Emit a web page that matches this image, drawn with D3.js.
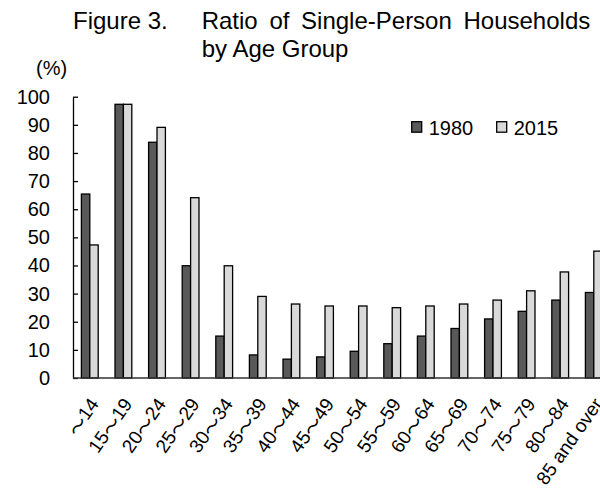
<!DOCTYPE html>
<html>
<head>
<meta charset="utf-8">
<script src="https://cdn.jsdelivr.net/npm/d3@7"></script>
<style>
  html, body { margin: 0; padding: 0; background: #fff; }
  svg { display: block; font-family: "Liberation Sans", Arial, sans-serif; }
</style>
</head>
<body>
<svg id="chart" width="600" height="492"></svg>
<script>
const categories = ["〜14","15〜19","20〜24","25〜29","30〜34","35〜39","40〜44","45〜49","50〜54","55〜59","60〜64","65〜69","70〜74","75〜79","80〜84","85 and over"];
const series = ["1980", "2015"];
const values1980 = [65.4, 97.3, 83.8, 39.9, 14.9, 8.2, 6.7, 7.5, 9.5, 12.2, 14.9, 17.6, 21.0, 23.7, 27.7, 30.4];
const values2015 = [47.3, 97.3, 89.1, 64.1, 39.9, 29.0, 26.3, 25.6, 25.6, 25.0, 25.6, 26.3, 27.7, 31.0, 37.7, 45.1];
const yTicks = [0, 10, 20, 30, 40, 50, 60, 70, 80, 90, 100];
const colors = { "1980": "#595959", "2015": "#d9d9d9" };

const svg = d3.select("#chart");
const plotLeft = 73, plotBottom = 378, plotTop = 96.7, step = 33.6;

const x = d3.scaleBand().domain(categories)
  .range([plotLeft, plotLeft + step * categories.length])
  .paddingInner(0.5).paddingOuter(0.25);
const xs = d3.scaleBand().domain(series).range([0, x.bandwidth()]);
const y = d3.scaleLinear().domain([0, 100]).range([plotBottom, plotTop]);

// Title
const title = svg.append("g").attr("font-size", 24).attr("fill", "#000");
title.append("text").attr("x", 73).attr("y", 29).text("Figure 3.");
title.append("text").attr("x", 201.7).attr("y", 29).attr("word-spacing", "5px").text("Ratio of Single-Person Households");
title.append("text").attr("x", 201.7).attr("y", 56.7).text("by Age Group");

// Unit
svg.append("text").attr("x", 36).attr("y", 75).attr("font-size", 20).text("(%)");

// Bars
const rows = categories.map((c, i) => ({ cat: c, vals: [
  { s: "1980", v: values1980[i] }, { s: "2015", v: values2015[i] } ] }));
const grp = svg.append("g").selectAll("g").data(rows).join("g")
  .attr("transform", d => `translate(${x(d.cat)},0)`);
grp.selectAll("rect").data(d => d.vals).join("rect")
  .attr("x", d => xs(d.s))
  .attr("y", d => y(d.v))
  .attr("width", xs.bandwidth())
  .attr("height", d => y(0) - y(d.v))
  .attr("fill", d => colors[d.s])
  .attr("stroke", "#000")
  .attr("stroke-width", 1.3);

// Y axis
const yAxis = d3.axisLeft(y).tickValues(yTicks).tickSizeInner(-5).tickSizeOuter(0).tickPadding(23);
const ya = svg.append("g").attr("transform", `translate(${plotLeft},0)`).call(yAxis);
ya.selectAll("text").attr("font-size", 20).attr("fill", "#000").attr("font-family", "Liberation Sans, Arial, sans-serif");
ya.selectAll("line").attr("stroke", "#000").attr("stroke-width", 1.3);
ya.select(".domain").attr("stroke", "#000").attr("stroke-width", 1.3);

// X axis baseline and labels
svg.append("line").attr("x1", plotLeft).attr("x2", 600).attr("y1", plotBottom).attr("y2", plotBottom)
  .attr("stroke", "#333").attr("stroke-width", 1.5);
const xl = svg.append("g").selectAll("text").data(categories).join("text")
  .attr("transform", d => `translate(${x(d) + x.bandwidth() / 2 + 4},${plotBottom + 22}) rotate(-55)`)
  .attr("text-anchor", "end")
  .attr("dominant-baseline", "central")
  .attr("font-size", 19);
xl.each(function(d) {
  const parts = d.split("〜");
  const t = d3.select(this);
  parts.forEach((p, i) => {
    if (i > 0) t.append("tspan").attr("font-family", "Noto Sans CJK JP").text("〜");
    if (p) t.append("tspan").text(p);
  });
});

// Legend
const legend = svg.append("g");
const lx = [411.7, 496.7];
series.forEach((s, i) => {
  legend.append("rect").attr("x", lx[i]).attr("y", 121.7).attr("width", 10).attr("height", 10.5)
    .attr("fill", colors[s]).attr("stroke", "#000").attr("stroke-width", 1.3);
  legend.append("text").attr("x", lx[i] + 17).attr("y", 135).attr("font-size", 20).text(s);
});
</script>
</body>
</html>
